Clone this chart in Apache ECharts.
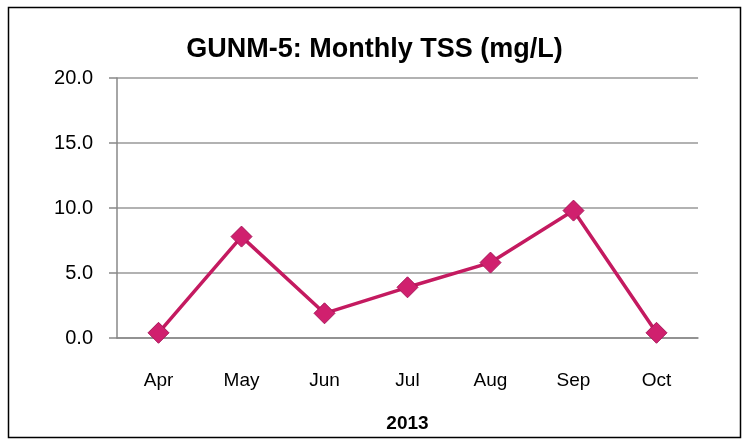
<!DOCTYPE html>
<html>
<head>
<meta charset="utf-8">
<script src="https://cdn.jsdelivr.net/npm/echarts@6/dist/echarts.min.js"></script>
<style>
  html, body { margin: 0; padding: 0; background: #fff; }
  #chart { width: 749px; height: 443px; }
</style>
</head>
<body>
<div id="chart"></div>
<script>
var months = ['Apr', 'May', 'Jun', 'Jul', 'Aug', 'Sep', 'Oct'];
var tss = [0.4, 7.8, 1.9, 3.9, 5.8, 9.8, 0.4];
var yTicks = [0, 5, 10, 15, 20];

var chart = echarts.init(document.getElementById('chart'));
var font = '"Liberation Sans", sans-serif';

var option = {
    animation: false,
    graphic: [{
        type: 'rect',
        shape: { x: 8.5, y: 7.5, width: 732, height: 430 },
        style: { fill: 'none', stroke: '#000', lineWidth: 1.5 }
    }],
    title: {
        text: 'GUNM-5: Monthly TSS (mg/L)',
        left: 'center',
        top: 31,
        textStyle: { fontFamily: font, fontWeight: 'bold', fontSize: 27, color: '#000' }
    },
    grid: { left: 117, right: 51, top: 78, bottom: 105 },
    xAxis: {
        type: 'category',
        data: months,
        name: '2013',
        nameLocation: 'middle',
        nameGap: 76,
        nameTextStyle: { fontFamily: font, fontWeight: 'bold', fontSize: 19, color: '#000' },
        axisLine: { lineStyle: { color: '#888', width: 1.5 } },
        axisTick: { length: 7, lineStyle: { color: '#888', width: 1.5 } },
        axisLabel: { margin: 33, fontFamily: font, fontSize: 19, color: '#000' }
    },
    yAxis: {
        type: 'value',
        min: yTicks[0],
        max: yTicks[yTicks.length - 1],
        interval: 5,
        axisLine: { show: true, lineStyle: { color: '#888', width: 1.5 } },
        axisTick: { show: true, length: 8, lineStyle: { color: '#888', width: 1.5 } },
        splitLine: { lineStyle: { color: '#999', width: 1.5 } },
        axisLabel: {
            margin: 24,
            fontFamily: font, fontSize: 20, color: '#000',
            formatter: function (v) { return v.toFixed(1); }
        }
    },
    series: [{
        type: 'line',
        data: tss,
        symbol: 'diamond',
        symbolSize: 21,
        lineStyle: { color: '#C41A60', width: 3.5 },
        itemStyle: { color: '#D0206E', borderColor: '#A8165A', borderWidth: 1 }
    }]
};
chart.setOption(option);
</script>
</body>
</html>
